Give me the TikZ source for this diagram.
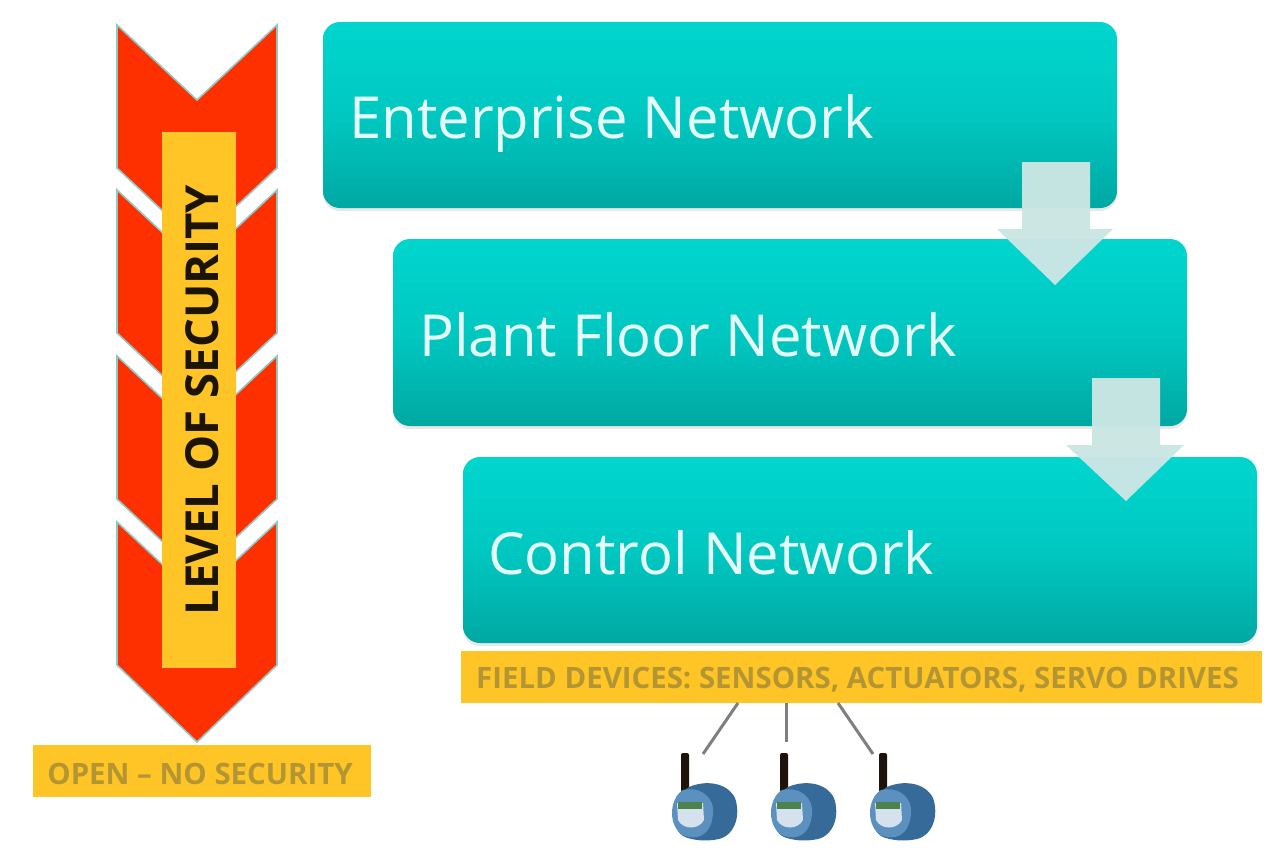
\documentclass[tikz,border=0pt]{standalone}
\usepackage{fontspec}
\setmainfont{Open Sans}
\usetikzlibrary{shadows}
\definecolor{tealtop}{HTML}{00D6CE}
\definecolor{tealmid}{HTML}{00C8C1}
\definecolor{tealbot}{HTML}{00A8A2}
\definecolor{redc}{HTML}{FF3000}
\definecolor{yellowc}{HTML}{FFC425}
\definecolor{labeltxt}{HTML}{B49534}
\definecolor{arrowc}{HTML}{CBE6E4}
\definecolor{linkc}{HTML}{7F7F7F}
\definecolor{devblue}{HTML}{3F7DB4}
\definecolor{edgec}{HTML}{8FC9C6}
\definecolor{sectxt}{HTML}{1A1400}
\tikzset{
  x=1pt,y=-1pt,
  netbox/.style={rounded corners=17pt,top color=tealtop,bottom color=tealbot,middle color=tealmid,draw=none,
    general shadow={fill=black!25,opacity=.35,shadow xshift=0pt,shadow yshift=-3pt}},
  nettext/.style={text=white!90!tealtop,font=\fontsize{58}{68}\selectfont,anchor=base west,inner sep=0pt},
  chev/.style={fill=redc,draw=edgec,line width=1.6pt,line join=miter},
  flow/.style={fill=arrowc,draw=none,opacity=.97},
  tag/.style={fill=yellowc,inner sep=0pt},
  tagtext/.style={inner sep=0pt,text=labeltxt,font=\bfseries\fontsize{29.4}{34}\selectfont},
  link/.style={draw=linkc,line width=3pt},
  device/.pic={
    \fill[black!85!brown,rounded corners=2pt] (-4,-37) rectangle (4,2);
    \fill[devblue!85!black] (4,-3) .. controls (20,-10) and (42,-8) .. (50,8)
       .. controls (56,25) and (50,45) .. (34,49) .. controls (20,52) and (8,50) .. (0,47)
       .. controls (-15,40) and (-17,10) .. (4,-3) -- cycle;
    \fill[devblue!85!white] (-2,0) .. controls (-16,8) and (-18,38) .. (0,46)
       .. controls (12,50) and (26,46) .. (28,24) .. controls (30,8) and (16,-4) .. (-2,0) -- cycle;
    \fill[white!78!devblue] (-8,13) -- (18,13) -- (19,30) .. controls (14,40) and (-2,40) .. (-7,30) -- cycle;
    \fill[green!30!black!70] (-7,12) rectangle (17,19);
  }
}
\begin{document}
\begin{tikzpicture}
\useasboundingbox (0,0) rectangle (1280,862);
\fill[white] (0,0) rectangle (1280,862);

% chevrons
\path[chev] (117,25) -- (197,100) -- (277,25) -- (277,168) -- (197,243) -- (117,168) -- cycle;
\path[chev] (117,190) -- (197,265) -- (277,190) -- (277,333) -- (197,408) -- (117,333) -- cycle;
\path[chev] (117,356) -- (197,431) -- (277,356) -- (277,499) -- (197,574) -- (117,499) -- cycle;
\path[chev] (117,522) -- (197,597) -- (277,522) -- (277,665) -- (197,742) -- (117,665) -- cycle;
\node[fill=yellowc,minimum width=74pt,minimum height=536pt,inner sep=0pt] (bar) at (199,400) {};
\node[rotate=90,text=sectxt,font=\bfseries\fontsize{45.5}{52}\selectfont,inner sep=0pt] (sec) at (202,400) {LEVEL OF SECURITY};

\node[tag,minimum width=338pt,minimum height=52pt] (open) at (202,771) {};
\node[tagtext] (opent) at (200,774) {OPEN – NO SECURITY};

% network boxes
\node[netbox,minimum width=794pt,minimum height=186pt,inner sep=0pt] (ent) at (720,115) {};
\node[nettext] (entt) at (349,138) {Enterprise Network};
\node[netbox,minimum width=794pt,minimum height=187pt,inner sep=0pt] (plant) at (790,332.5) {};
\node[nettext] (plantt) at (419,356) {Plant Floor Network};
\node[netbox,minimum width=794pt,minimum height=186pt,inner sep=0pt] (ctrl) at (860,550) {};
\node[nettext] (ctrlt) at (488,574) {Control Network};

% flow arrows
\path[flow] (1022,162) -- (1090,162) -- (1090,229) -- (1113,229) -- (1055,285) -- (997,229) -- (1022,229) -- cycle;
\path[flow] (1092,378) -- (1160,378) -- (1160,445) -- (1184,445) -- (1126,501) -- (1066,445) -- (1092,445) -- cycle;

% field devices
\node[tag,minimum width=801pt,minimum height=52pt] (field) at (861.5,677) {};
\node[tagtext] (fieldt) at (857.5,680) {FIELD DEVICES: SENSORS, ACTUATORS, SERVO DRIVES};

\coordinate (l1a) at (738,703);
\coordinate (l1b) at (703,754);
\coordinate (l2a) at (786,703);
\coordinate (l2b) at (786,742);
\coordinate (l3a) at (838,703);
\coordinate (l3b) at (873,754);
\draw[link] (l1a) -- (l1b);
\draw[link] (l2a) -- (l2b);
\draw[link] (l3a) -- (l3b);

\pic at (685,790) {device};
\pic at (784,790) {device};
\pic at (883,790) {device};
\end{tikzpicture}
\end{document}
